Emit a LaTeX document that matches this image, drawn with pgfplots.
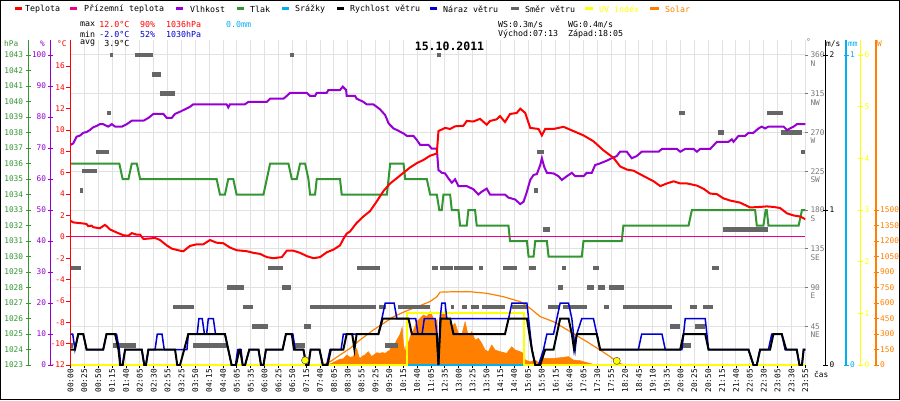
\documentclass[border=0pt]{standalone}
\usepackage{pgfplots}
\pgfplotsset{compat=1.18}
\usepackage{fontspec}
\setmainfont{DejaVu Sans Mono}
\setmonofont{DejaVu Sans Mono}
\definecolor{tlak}{RGB}{51,150,51}
\definecolor{vlh}{RGB}{150,0,210}
\definecolor{naraz}{RGB}{0,0,210}
\definecolor{srazky}{RGB}{0,176,240}
\definecolor{uv}{RGB}{255,255,0}
\definecolor{solar}{RGB}{255,128,0}
\definecolor{dirg}{RGB}{102,102,102}
\definecolor{degg}{RGB}{120,120,120}
\definecolor{gridc}{RGB}{226,226,226}
\newcommand\lf{\fontsize{8.3}{9}\selectfont}
\newcommand\tf{\fontsize{7.8}{8.5}\selectfont}
\pgfplotsset{
 base/.style={scale only axis, width=734.8pt, height=325pt, at={(70.5pt,35pt)}, anchor=south west, xmin=0, xmax=265},
 hid/.style={base, hide axis},
 ruler/.style={scale only axis, width=1pt, height=325pt, xmin=0, xmax=1, hide x axis, tick align=center, major tick length=5pt,
   yticklabel style={font=\tf, inner sep=1.5pt}, /pgf/number format/1000 sep={}, /pgf/number format/assume math mode=true},
}
\begin{document}
\begin{tikzpicture}
\path[use as bounding box] (0pt,0pt) rectangle (900pt,400pt);
\fill[white] (0pt,0pt) rectangle (900pt,400pt);

% grid, time axis, direction axis
\begin{axis}[base, ymin=0, ymax=377.42, axis line style={draw=none},
  xtick={0,5,...,265},
  xticklabels={00:00,00:25,00:50,01:15,01:40,02:05,02:30,02:55,03:25,03:50,04:15,04:40,05:05,05:35,06:00,06:25,06:50,07:15,07:40,08:05,08:30,08:55,09:25,09:50,10:15,10:40,11:05,12:35,13:00,13:25,13:50,14:15,14:40,15:05,15:50,16:15,16:40,17:05,17:30,17:55,18:20,18:45,19:10,19:35,20:00,20:25,20:50,21:15,21:40,22:05,22:30,23:05,23:30,23:55},
  xtick pos=bottom, ytick={45,90,...,360}, ytick pos=right, yticklabel pos=right,
  yticklabels={{45\\NE},{90\\E},{135\\SE},{180\\S},{225\\SW},{270\\W},{315\\NW},{360\\N}},
  grid=major, grid style={color=gridc, line width=1pt},
  tick align=outside, major tick length=3pt,
  x tick style={black, line width=0.8pt}, y tick style={degg, line width=0.8pt},
  xticklabel style={rotate=90, anchor=east, font=\tf, inner sep=1pt},
  yticklabel style={anchor=north west, align=left, font=\tf, text=degg, inner sep=1pt, yshift=4pt, xshift=1pt}]
\end{axis}

% solar
\begin{axis}[hid, ymin=0, ymax=3145.2]
\addplot[fill=solar, draw=solar, line width=0.5pt] coordinates {
(92.5,0) (94,15) (95.5,35) (97,55) (98.4,60) (99.6,97) (100.8,75) (102.0,81) (103.2,160) (104.0,80) (104.4,64) (105.5,90) (106.2,97) (107.4,129) (108.6,81) (109.5,100) (110.5,119) (111.6,113) (112.5,120) (113.5,113) (114.3,130) (115.3,145) (115.9,210) (116.5,177) (117.7,242) (118.9,300) (119.6,365) (120.1,200) (120.8,110) (121.3,300) (121.9,200) (122.5,274) (123.7,339) (124.9,420) (126.1,452) (127.3,484) (128.5,468) (129.7,516) (130.9,452) (131.5,419) (132.2,440) (132.7,0) (133.2,430) (133.9,516) (135.1,500) (136.3,435) (137.5,371) (138.7,403) (139.9,306) (141.1,290) (142.3,419) (143.5,274) (144.7,323) (145.9,242) (147.1,258) (148.3,210) (149.5,145) (150.7,129) (151.9,194) (153.1,145) (155.0,129) (157.3,113) (159.1,177) (160.4,145) (162.2,129) (163.4,113) (164.0,48) (165.8,32) (167.6,48) (168.8,23) (170.6,64) (171.8,64) (174.2,64) (177.8,74) (179.6,81) (181.4,48) (183.8,42) (186.2,23) (188.6,6) (189.8,0)} \closedcycle;
\addplot[solar, line width=1.2pt] coordinates {
(91,0) (93.6,32) (97.2,97) (100.8,161) (104.4,242) (109.2,339) (112.9,403) (116.5,468) (121.3,525) (126.1,575) (129.7,615) (132.1,660) (133.3,705) (138.1,709) (144.1,709) (150.1,694) (156.1,661) (162.2,613) (165.8,548) (169.4,468) (174.2,419) (180.2,323) (186.2,226) (191.0,145) (194.6,81) (197.0,32) (199.4,0)};
\end{axis}

% precipitation
\begin{axis}[hid, ymin=0, ymax=1.0484]
\addplot[srazky, line width=2pt] coordinates {(0,0) (265,0)};
\end{axis}

% UV index
\begin{axis}[hid, ymin=0, ymax=6.29]
\addplot[uv, line width=2pt] coordinates {(0,0) (121.4,0) (121.4,1) (163.7,1) (163.7,0) (265,0)};
\end{axis}

% wind direction
\begin{axis}[hid, ymin=0, ymax=377.42]
\addplot[dirg, line width=4.5pt, unbounded coords=jump] coordinates {
(14.2,360) (15.3,360) (15.3,nan) (23.3,360) (29.8,360) (29.8,nan) (79.2,360) (80.6,360) (80.6,nan) (132.3,360) (133.7,360) (133.7,nan)
(29.4,337.5) (32.6,337.5) (32.6,nan)
(32.3,315) (37.7,315) (37.7,nan)
(13.2,292.5) (14.6,292.5) (14.6,nan) (219.5,292.5) (221.7,292.5) (221.7,nan) (251.3,292.5) (257.0,292.5) (257.0,nan)
(233.6,270) (235.7,270) (235.7,nan) (256.3,270) (263.9,270) (263.9,nan)
(9.2,247.5) (13.9,247.5) (13.9,nan) (168.3,247.5) (170.8,247.5) (170.8,nan) (263.5,247.5) (265,247.5) (265,nan)
(4.1,225) (9.6,225) (9.6,nan)
(3.4,202.5) (4.5,202.5) (4.5,nan) (167.2,202.5) (168.6,202.5) (168.6,nan)
(170.5,157.5) (173.0,157.5) (173.0,nan) (235.4,157.5) (251.6,157.5) (251.6,nan)
(0,112.5) (3.8,112.5) (3.8,nan) (71.3,112.5) (76.7,112.5) (76.7,nan) (103.4,112.5) (111.7,112.5) (111.7,nan) (130.4,112.5) (132.6,112.5) (132.6,nan) (133.3,112.5) (138.0,112.5) (138.0,nan) (138.4,112.5) (145.2,112.5) (145.2,nan) (147.4,112.5) (148.8,112.5) (148.8,nan) (156.0,112.5) (161.1,112.5) (161.1,nan) (165.4,112.5) (167.9,112.5) (167.9,nan) (177.3,112.5) (178.8,112.5) (178.8,nan) (188.5,112.5) (190.7,112.5) (190.7,nan) (231.4,112.5) (233.9,112.5) (233.9,nan)
(56.5,90) (62.6,90) (62.6,nan) (76.3,90) (79.5,90) (79.5,nan) (175.9,90) (177.7,90) (177.7,nan) (186.3,90) (188.9,90) (188.9,nan) (190.3,90) (192.8,90) (192.8,nan) (194.3,90) (199.7,90) (199.7,nan)
(37.0,67.5) (44.6,67.5) (44.6,nan) (62.2,67.5) (65.8,67.5) (65.8,nan) (86.4,67.5) (110.2,67.5) (110.2,nan) (111.3,67.5) (113.8,67.5) (113.8,nan) (118.1,67.5) (129.7,67.5) (129.7,nan) (137.3,67.5) (138.4,67.5) (138.4,nan) (141.2,67.5) (143.1,67.5) (143.1,nan) (144.5,67.5) (147.4,67.5) (147.4,nan) (148.4,67.5) (156.7,67.5) (156.7,nan) (159.3,67.5) (164.7,67.5) (164.7,nan) (172.3,67.5) (176.6,67.5) (176.6,nan) (177.7,67.5) (186.3,67.5) (186.3,nan) (192.5,67.5) (194.3,67.5) (194.3,nan) (199.3,67.5) (217.0,67.5) (217.0,nan) (223.5,67.5) (226.0,67.5) (226.0,nan) (228.2,67.5) (231.8,67.5) (231.8,nan)
(65.5,45) (71.3,45) (71.3,nan) (84.2,45) (86.8,45) (86.8,nan) (216.3,45) (219.9,45) (219.9,nan) (225.3,45) (228.9,45) (228.9,nan)
(0,22.5) (0.9,22.5) (0.9,nan) (15.3,22.5) (23.6,22.5) (23.6,nan) (44.2,22.5) (56.5,22.5) (56.5,nan) (80.3,22.5) (84.6,22.5) (84.6,nan) (113.5,22.5) (118.1,22.5) (118.1,nan) (220.9,22.5) (223.8,22.5)};
\end{axis}

% pressure
\begin{axis}[hid, ymin=1023, ymax=1043.968]
\addplot[tlak, line width=2pt] coordinates {
(0,1036) (17.6,1036) (18.8,1035) (20.9,1035) (22.1,1036) (23.9,1036) (25.1,1035) (52.7,1035) (53.9,1034) (55.7,1034) (56.9,1035) (58.7,1035) (59.9,1034) (69.6,1034) (70.8,1035) (72.0,1036) (78.6,1036) (79.8,1035) (81.6,1035) (82.8,1036) (84.6,1036) (85.8,1035) (86.4,1034) (88.2,1034) (88.8,1035) (97.2,1035) (97.8,1034) (114.1,1034) (115.3,1036) (120.1,1036) (120.7,1035) (128.5,1035) (129.7,1034) (132.1,1034) (133.0,1033) (133.9,1033) (134.5,1034) (136.9,1034) (137.5,1033) (139.9,1033) (140.5,1032) (142.9,1032) (143.5,1033) (145.9,1033) (146.5,1032) (157.95,1032) (158.5,1031) (164.6,1031) (165.2,1030) (167.0,1030) (167.6,1031) (171.8,1031) (172.4,1030) (184.4,1030) (185.0,1031) (198.8,1031) (199.4,1032) (222.9,1032) (224.1,1033) (246.9,1033) (247.5,1032) (249.9,1032) (250.7,1033) (251.1,1033) (251.7,1032) (262.6,1032) (263.8,1033) (265,1033)};
\end{axis}

% humidity
\begin{axis}[hid, ymin=0, ymax=104.84]
\addplot[vlh, line width=2pt] coordinates {
(0,71.0) (1.0,71.5) (2.2,73.65) (3.4,74.0) (4.6,74.9) (5.8,75.15) (7.0,75.8) (8.2,76.7) (9.4,77.1) (10.6,77.7) (11.8,77.7) (13.6,76.9) (14.9,77.7) (16.1,76.9) (18.5,76.9) (20.3,77.7) (22.1,78.8) (26.3,78.8) (28.1,79.7) (29.9,81.0) (33.5,81.0) (34.7,79.7) (36.5,79.7) (37.7,81.0) (39.5,81.7) (41.3,82.5) (43.1,83.3) (44.3,84.1) (56.3,84.1) (56.9,83.1) (57.5,84.1) (62.9,84.1) (64.2,84.9) (70.8,84.9) (72.0,85.9) (76.8,85.9) (78.0,86.8) (79.2,87.8) (85.2,87.8) (86.4,86.8) (88.2,86.8) (88.8,87.8) (92.4,87.8) (93.0,88.7) (97.2,88.7) (98.2,89.8) (99.4,88.7) (99.6,86.8) (102.6,86.8) (103.2,85.9) (105.6,84.9) (106.8,84.1) (109.2,84.1) (111.6,82.5) (113.5,80.6) (114.7,77.95) (116.5,76.3) (117.7,75.8) (120.1,74.7) (121.3,73.9) (123.7,73.9) (124.9,72.6) (126.1,71.0) (129.1,71.0) (130.3,69.8) (132.1,69.8) (132.7,62.9) (133.9,62.0) (135.1,61.8) (136.3,60.2) (137.5,58.8) (138.7,59.9) (139.9,57.7) (142.9,57.7) (145.3,56.7) (147.1,55.0) (148.3,55.9) (150.1,56.9) (151.3,55.0) (156.7,55.0) (157.9,54.0) (160.35,53.4) (162.2,51.9) (163.4,52.7) (164.6,55.9) (165.8,59.7) (167.0,61.3) (168.2,61.6) (169.4,64.5) (170.0,66.7) (170.8,64.0) (171.8,62.0) (174.2,61.8) (176.0,60.9) (177.2,59.7) (179.0,60.9) (180.8,62.0) (182.0,60.9) (185.0,60.9) (186.2,62.0) (188.0,62.0) (189.2,64.5) (191.0,65.05) (193.4,65.9) (195.2,66.7) (197.0,67.4) (198.2,68.8) (200.6,68.8) (202.4,66.7) (204.2,67.4) (206.0,68.8) (212.1,68.8) (213.3,69.7) (218.7,69.7) (219.9,68.8) (221.7,69.7) (224.7,69.7) (225.9,68.8) (227.1,69.7) (230.7,69.7) (233.1,72.0) (237.3,72.0) (238.5,72.8) (239.1,72.0) (240.9,73.9) (243.3,73.9) (244.5,74.9) (246.3,74.9) (248.1,76.3) (249.3,76.9) (250.5,76.3) (251.7,76.9) (257.2,76.9) (258.4,75.8) (260.8,76.9) (262.0,77.7) (265,77.7)};
\end{axis}

% temperature (with the red axis)
\begin{axis}[base, ymin=-12, ymax=18.43, hide x axis, axis y line*=left,
  ytick={-12,-10,...,16}, y axis line style={red, line width=1.2pt}, y tick style={red, line width=0.8pt},
  tick align=outside, major tick length=4pt,
  yticklabel style={text=red, font=\tf, inner sep=1.5pt}, /pgf/number format/assume math mode=true]
\addplot[magenta, line width=1pt] coordinates {(0,0) (265,0)};
\addplot[red, line width=2pt] coordinates {
(0,1.5) (1.0,1.35) (4.6,1.25) (5.8,1.2) (6.4,1.0) (7.6,1.05) (8.2,0.9) (10.6,0.8) (12.4,1.12) (13.0,1.0) (14.2,0.7) (16.7,0.4) (19.1,0.15) (20.9,0.1) (22.1,0.35) (23.9,0.2) (25.1,0.2) (26.3,-0.2) (28.7,-0.15) (30.5,-0.1) (32.3,-0.3) (34.7,-0.8) (36.5,-1.1) (39.5,-1.3) (40.7,-1.35) (43.1,-0.85) (45.5,-0.7) (47.9,-0.7) (50.3,-0.3) (52.7,-0.55) (55.1,-0.6) (57.5,-1.0) (59.9,-1.25) (63.6,-1.35) (66.0,-1.5) (68.4,-1.6) (70.8,-1.9) (73.2,-2.0) (76.2,-1.9) (78.0,-1.3) (80.4,-1.3) (82.8,-1.5) (85.2,-1.8) (87.6,-2.0) (90.0,-1.9) (92.4,-1.45) (94.8,-1.2) (97.2,-0.8) (98.4,-0.2) (99.6,0.3) (100.8,0.5) (103.2,1.3) (105.6,1.9) (108.0,2.4) (110.4,3.3) (112.9,4.3) (115.3,5.0) (117.7,5.5) (120.1,6.0) (122.5,6.5) (124.9,6.9) (127.3,7.2) (129.7,7.6) (132.1,7.8) (132.7,9.9) (135.1,10.2) (136.9,10.1) (138.7,10.35) (141.7,10.4) (142.9,10.85) (145.3,10.8) (147.7,11.05) (150.1,10.5) (151.3,10.85) (153.7,11.0) (154.9,11.3) (156.7,10.75) (158.5,11.5) (160.95,11.6) (162.2,12.0) (164.0,11.6) (165.8,10.2) (168.8,10.1) (170.0,9.5) (171.2,10.1) (174.2,10.1) (177.8,10.3) (181.4,9.9) (185.0,9.5) (188.6,8.95) (192.2,8.1) (195.8,7.4) (198.2,6.6) (200.6,6.3) (203.0,6.2) (206.6,5.7) (210.3,5.2) (212.7,4.75) (215.1,5.0) (217.5,5.2) (219.9,5.0) (222.3,5.0) (225.9,4.8) (228.3,4.5) (230.7,4.05) (233.1,4.0) (235.5,3.6) (237.9,3.4) (241.5,3.2) (245.1,2.75) (248.7,2.8) (251.1,2.85) (253.5,2.8) (255.9,2.7) (258.4,2.2) (260.8,2.0) (263.2,1.9) (265,1.65)};
\end{axis}

% wind speed and gust
\begin{axis}[hid, ymin=0, ymax=2.0968]
\addplot[naraz, line width=1.5pt] coordinates {
(0,0.2) (0.8,0.2) (1.6,0.1) (2.8,0.2) (4.6,0.2) (5.8,0.1) (11.8,0.1) (13.0,0.2) (16.6,0.2) (17.6,0.1) (18.1,0) (18.8,0) (19.7,0.1) (25.7,0.1) (26.6,0) (27.2,0) (28.1,0.1) (30.5,0.1) (31.3,0.2) (33.0,0.2) (33.8,0.1) (42.0,0.1) (42.5,0.2) (45.7,0.2) (46.3,0.3) (47.5,0.3) (48.3,0.2) (49.1,0.2) (49.7,0.3) (51.5,0.3) (52.3,0.2) (55.7,0.2) (56.9,0.1) (58.1,0) (59.5,0) (60.3,0.1) (61.5,0.1) (62.1,0) (62.95,0) (64.5,0.1) (67.8,0.1) (68.7,0) (69.6,0) (70.5,0.1) (76.5,0.1) (77.7,0.2) (80.2,0.2) (81.0,0.1) (84.0,0.1) (85.0,0) (85.8,0) (86.6,0.1) (89.8,0.1) (91.0,0) (92.4,0) (93.6,0.1) (97.6,0.1) (98.4,0.2) (111.05,0.2) (112.3,0.3) (113.5,0.4) (116.7,0.4) (117.7,0.3) (124.5,0.3) (125.3,0.2) (126.8,0.2) (127.6,0.3) (131.5,0.3) (132.1,0.2) (132.7,0) (133.3,0.3) (133.9,0.4) (135.1,0.4) (135.7,0.3) (158.0,0.3) (159.2,0.4) (164.6,0.4) (165.8,0.2) (166.4,0.1) (167.6,0) (168.8,0) (170.6,0.1) (171.8,0.2) (174.2,0.2) (175.4,0.3) (176.6,0.4) (179.6,0.4) (180.8,0.3) (181.4,0.2) (182.0,0.1) (182.6,0.2) (184.4,0.3) (188.6,0.3) (189.8,0.2) (191.0,0.1) (204.8,0.1) (206.0,0.2) (213.3,0.2) (214.5,0.1) (220.5,0.1) (221.7,0.3) (228.9,0.3) (230.1,0.1) (244.5,0.1) (246.3,0) (247.5,0) (248.7,0.1) (251.7,0.1) (252.9,0.2) (256.5,0.2) (257.7,0.1) (261.9,0.1) (262.9,0) (263.8,0) (264.4,0.1) (265,0.1)};
\addplot[black, line width=2pt] coordinates {
(0,0.1) (1.6,0.1) (2.8,0.2) (4.6,0.2) (5.8,0.1) (11.8,0.1) (13.0,0.2) (16.1,0.2) (17.3,0.1) (17.9,0) (18.8,0) (19.7,0.1) (25.7,0.1) (26.6,0) (27.2,0) (28.1,0.1) (37.7,0.1) (38.5,0) (39.5,0) (41.0,0.1) (42.5,0.2) (55.7,0.2) (56.9,0.1) (58.1,0) (59.7,0) (60.9,0.1) (61.15,0.1) (62.1,0) (62.95,0) (64.5,0.1) (67.8,0.1) (68.7,0) (69.6,0) (70.5,0.1) (76.5,0.1) (77.7,0.2) (79.8,0.2) (80.6,0.1) (84.0,0.1) (85.0,0) (85.8,0) (86.6,0.1) (89.8,0.1) (91.0,0) (92.7,0) (93.9,0.1) (98.4,0.1) (99.6,0.2) (101.6,0.2) (102.4,0.1) (103.2,0.2) (111.05,0.2) (112.6,0.3) (121.9,0.3) (123.1,0.2) (132.1,0.2) (132.7,0) (133.5,0.3) (136.9,0.3) (138.1,0.2) (156.7,0.2) (158.0,0.3) (164.6,0.3) (166.4,0.1) (167.6,0) (169.4,0) (171.2,0.1) (174.2,0.1) (175.4,0.2) (176.6,0.3) (179.6,0.3) (180.8,0.2) (181.6,0.1) (182.6,0.2) (189.8,0.2) (191.0,0.1) (219.9,0.1) (221.1,0.2) (228.9,0.2) (230.1,0.1) (244.5,0.1) (246.3,0) (247.5,0) (248.7,0.1) (252.3,0.1) (253.5,0.2) (256.5,0.2) (258.1,0.1) (261.9,0.1) (262.9,0) (263.8,0) (264.4,0.1) (265,0.1)};
\end{axis}

% sunrise / sunset
\begin{axis}[hid, ymin=0, ymax=3145.2, clip=false]
\addplot[only marks, mark=*, mark size=3.6pt, mark options={fill=uv, draw=black!70, line width=0.5pt}] coordinates {(84.6,45) (197.0,40)};
\end{axis}

% left rulers
\begin{axis}[ruler, at={(28.3pt,35pt)}, anchor=south west, axis y line*=left, ymin=1023, ymax=1043.968,
  ytick={1023,1024,...,1043}, y axis line style={tlak, line width=1.2pt}, y tick style={tlak, line width=0.8pt},
  yticklabel style={text=tlak, xshift=-1pt}]
\end{axis}
\begin{axis}[ruler, at={(50.3pt,35pt)}, anchor=south west, axis y line*=left, ymin=0, ymax=104.84,
  ytick={0,10,...,100}, y axis line style={vlh, line width=1.2pt}, y tick style={vlh, line width=0.8pt},
  yticklabel style={text=vlh}]
\end{axis}
% right rulers
\begin{axis}[ruler, at={(825.3pt,35pt)}, anchor=south east, axis y line*=right, ymin=0, ymax=2.0968,
  ytick={0,1,2}, y axis line style={black, line width=1.2pt}, y tick style={black, line width=0.8pt},
  yticklabel style={text=black}]
\end{axis}
\begin{axis}[ruler, at={(846pt,35pt)}, anchor=south east, axis y line*=right, ymin=0, ymax=1.0484,
  ytick={0,1}, y axis line style={srazky, line width=1.2pt}, y tick style={srazky, line width=0.8pt},
  yticklabel style={text=srazky}]
\end{axis}
\begin{axis}[ruler, at={(860.3pt,35pt)}, anchor=south east, axis y line*=right, ymin=0, ymax=6.29,
  ytick={0,1,...,6}, y axis line style={uv, line width=1.2pt}, y tick style={uv, line width=0.8pt},
  yticklabel style={text=uv}]
\end{axis}
\begin{axis}[ruler, at={(876pt,35pt)}, anchor=south east, axis y line*=right, ymin=0, ymax=3145.2,
  ytick={0,150,...,1500}, y axis line style={solar, line width=1.2pt}, y tick style={solar, line width=0.8pt},
  yticklabel style={text=solar}]
\end{axis}

% texts (top-left origin, y downwards)
\begin{scope}[yshift=400pt, x=1pt, y=-1pt]
\draw[black, line width=1pt] (0.5,0.5) rectangle (899.5,399.5);
% legend
\draw[red, line width=3pt] (15,9) -- (22,9); \node[anchor=west, inner sep=0pt, font=\lf] at (25,9) {Teplota};
\draw[magenta, line width=3pt] (70,9) -- (77,9); \node[anchor=west, inner sep=0pt, font=\lf] at (84,9) {Přízemní teplota};
\draw[vlh, line width=3pt] (176,9) -- (183,9); \node[anchor=west, inner sep=0pt, font=\lf] at (190,9) {Vlhkost};
\draw[tlak, line width=3pt] (237,9) -- (244,9); \node[anchor=west, inner sep=0pt, font=\lf] at (250,9) {Tlak};
\draw[srazky, line width=3pt] (282,9) -- (289,9); \node[anchor=west, inner sep=0pt, font=\lf] at (295,9) {Srážky};
\draw[black, line width=3pt] (337,9) -- (344,9); \node[anchor=west, inner sep=0pt, font=\lf] at (350,9) {Rychlost větru};
\draw[naraz, line width=3pt] (430,9) -- (437,9); \node[anchor=west, inner sep=0pt, font=\lf] at (443,9) {Náraz větru};
\draw[dirg, line width=3pt] (511,9) -- (519,9); \node[anchor=west, inner sep=0pt, font=\lf] at (525,9) {Směr větru};
\draw[uv, line width=3pt] (585,9) -- (593,9); \node[anchor=west, inner sep=0pt, font=\lf, text=uv] at (599,9) {UV index};
\draw[solar, line width=3pt] (650,9) -- (659,9); \node[anchor=west, inner sep=0pt, font=\lf, text=solar] at (665,9) {Solar};
% stats
\node[anchor=west, inner sep=0pt, font=\lf] at (80,24.7) {max};
\node[anchor=east, inner sep=0pt, font=\lf, text=red] at (129.5,24.7) {12.0°C};
\node[anchor=west, inner sep=0pt, font=\lf, text=red] at (140,24.7) {90\%};
\node[anchor=west, inner sep=0pt, font=\lf, text=red] at (166,24.7) {1036hPa};
\node[anchor=west, inner sep=0pt, font=\lf, text=srazky] at (226,24.7) {0.0mm};
\node[anchor=west, inner sep=0pt, font=\lf] at (80,34) {min};
\node[anchor=east, inner sep=0pt, font=\lf, text=naraz] at (129.5,34) {-2.0°C};
\node[anchor=west, inner sep=0pt, font=\lf, text=naraz] at (140,34) {52\%};
\node[anchor=west, inner sep=0pt, font=\lf, text=naraz] at (166,34) {1030hPa};
\node[anchor=west, inner sep=0pt, font=\lf] at (80,43.5) {avg};
\node[anchor=east, inner sep=0pt, font=\lf] at (129.5,43.5) {3.9°C};
\node[anchor=west, inner sep=0pt, font=\lf] at (498,24.7) {WS:0.3m/s};
\node[anchor=west, inner sep=0pt, font=\lf] at (568,24.7) {WG:0.4m/s};
\node[anchor=west, inner sep=0pt, font=\lf] at (498,34) {Východ:07:13};
\node[anchor=west, inner sep=0pt, font=\lf] at (568,34) {Západ:18:05};
% title
\node[inner sep=0pt, font=\fontsize{11.5}{13}\selectfont\bfseries] at (449.5,46.5) {15.10.2011};
% axis headers
\node[anchor=west, inner sep=0pt, font=\tf, text=tlak] at (4,44) {hPa};
\node[anchor=west, inner sep=0pt, font=\tf, text=vlh] at (40,44) {\%};
\node[anchor=west, inner sep=0pt, font=\tf, text=red] at (57,44) {°C};
\node[anchor=west, inner sep=0pt, font=\tf, text=degg] at (806,42) {°};
\node[anchor=west, inner sep=0pt, font=\tf] at (826,44) {m/s};
\node[anchor=west, inner sep=0pt, font=\tf, text=srazky] at (848,44) {mm};
\node[anchor=west, inner sep=0pt, font=\tf, text=solar] at (877,44) {W};
\node[anchor=west, inner sep=0pt, font=\tf] at (814,374) {čas};
\end{scope}
\end{tikzpicture}
\end{document}
